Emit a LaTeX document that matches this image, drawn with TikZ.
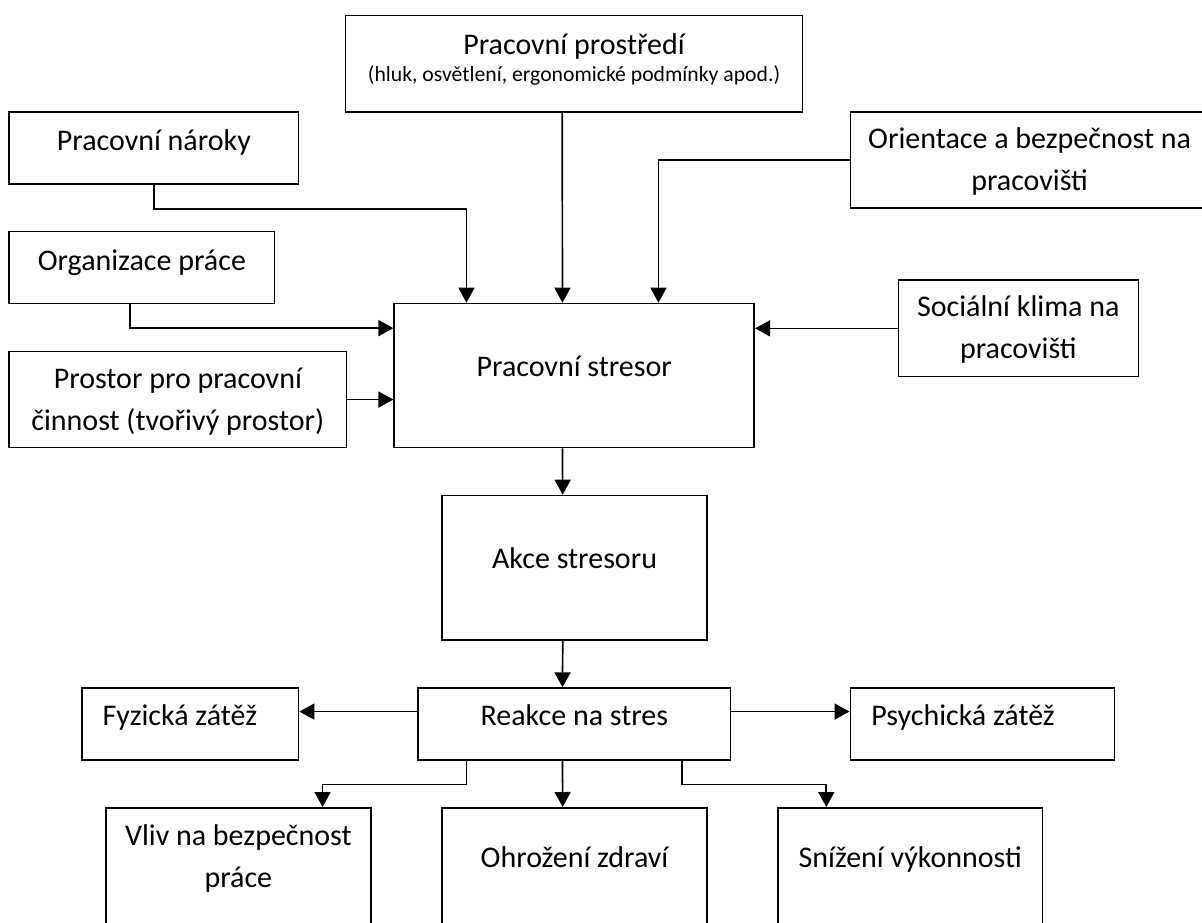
\documentclass[tikz,border=0pt]{standalone}
\usepackage{fontspec}
\setmainfont{Carlito}
\usetikzlibrary{arrows.meta}

\begin{document}
\begin{tikzpicture}[
  x=1pt,y=-1pt,
  box/.style={draw,line width=1.7pt,anchor=north west,inner sep=0pt,align=flush center,
              font=\fontsize{30}{42}\selectfont},
  leftbox/.style={box,align=flush left,inner xsep=21pt},
  arr/.style={line width=1.7pt,-{Triangle[length=15pt,width=16pt]}}
]
  \useasboundingbox (0,0) rectangle (1202,922);
  \clip (0,0) rectangle (1202,922);

  \node[box,text width=457pt,text height=38.6pt,text depth=57.7pt] (prostredi) at (344.7,14.7)
    {Pracovní prostředí\\[-15pt]{\fontsize{21.7}{27}\selectfont (hluk, osvětlení, ergonomické podmínky apod.)}};
  \node[box,text width=289.3pt,text height=39pt,text depth=33pt] (naroky) at (8.4,111) {Pracovní nároky};
  \node[box,text width=358.5pt,text height=37pt,text depth=59.3pt] (orientace) at (849.5,111)
    {Orientace a bezpečnost na\\pracovišti};
  \node[box,text width=265.2pt,text height=39.3pt,text depth=32.7pt] (organizace) at (8.4,230.7) {Organizace práce};
  \node[box,text width=360pt,text height=73.3pt,text depth=70.7pt] (stresor) at (393.4,302.7) {Pracovní stresor};
  \node[box,text width=240pt,text height=36.7pt,text depth=59.7pt] (socialni) at (897.5,279.3)
    {Sociální klima na\\pracovišti};
  \node[box,text width=337.2pt,text height=37.3pt,text depth=58.7pt] (prostor) at (8.4,350.7)
    {Prostor pro pracovní\\činnost (tvořivý prostor)};
  \node[box,text width=264.7pt,text height=73.3pt,text depth=71.3pt] (akce) at (441.3,494.7) {Akce stresoru};
  \node[box,text width=312.5pt,text height=37.4pt,text depth=34.6pt] (reakce) at (417.2,687.3) {Reakce na stres};
  \node[leftbox,text width=174.9pt,text height=37.4pt,text depth=34.6pt] (fyzicka) at (80.8,687.3) {Fyzická zátěž};
  \node[leftbox,text width=222.1pt,text height=37.4pt,text depth=34.6pt] (psychicka) at (849.5,687.3) {Psychická zátěž};
  \node[box,text width=265pt,text height=38pt,text depth=115pt] (vliv) at (105,807)
    {Vliv na bezpečnost\\práce};
  \node[box,text width=264.7pt,text height=59.3pt,text depth=93.7pt] (ohrozeni) at (441.3,807) {Ohrožení zdraví};
  \node[box,text width=264.1pt,text height=59.3pt,text depth=93.7pt] (snizeni) at (777.4,807) {Snížení výkonnosti};

  \draw[arr] (naroky.south) -- ++(0,24) -| ([xshift=-107.8pt]stresor.north);
  \draw[arr] ([xshift=-11.8pt]prostredi.south) -- ([xshift=-11.8pt]stresor.north);
  \draw[arr] (orientace.west) -| ([xshift=84.2pt]stresor.north);
  \draw[arr] ([xshift=-11.6pt]organizace.south) |- ([yshift=47.4pt]stresor.west);
  \draw[arr] (prostor.east) -- (prostor.east -| stresor.west);
  \draw[arr] (socialni.west) -- (socialni.west -| stresor.east);
  \draw[arr] ([xshift=-11.8pt]stresor.south) -- ([xshift=-11.8pt]akce.north);
  \draw[arr] ([xshift=-11.8pt]akce.south) -- ([xshift=-11.8pt]reakce.north);
  \draw[arr] ([yshift=12.6pt]reakce.west) -- ([yshift=12.6pt]fyzicka.east);
  \draw[arr] ([yshift=12.6pt]reakce.east) -- ([yshift=12.6pt]psychicka.west);
  \draw[arr] ([xshift=-107.8pt]reakce.south) -- ++(0,23.4) -| ([xshift=84.2pt]vliv.north);
  \draw[arr] ([xshift=-11.8pt]reakce.south) -- ([xshift=-11.8pt]ohrozeni.north);
  \draw[arr] ([xshift=107.8pt]reakce.south) -- ++(0,23.4) -| ([xshift=-84pt]snizeni.north);
\end{tikzpicture}
\end{document}
